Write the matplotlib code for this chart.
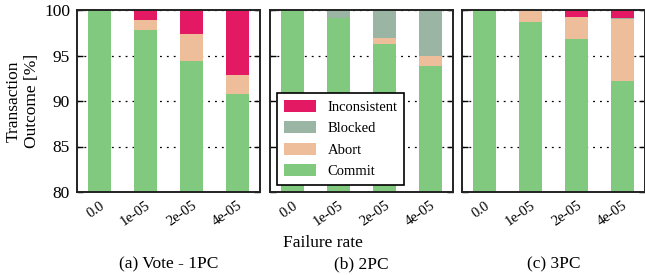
import numpy as np
import matplotlib
matplotlib.use('Agg')
import matplotlib.pyplot as plt

plt.rcParams['font.family'] = ['Liberation Serif', 'DejaVu Serif']

rates = ['0.0', '1e-05', '2e-05', '4e-05']
panels = ['(a) Vote - 1PC', '(b) 2PC', '(c) 3PC']

# percentages per panel, one entry per failure rate
commit = [[100.0, 97.85, 94.45, 90.75],
          [100.0, 99.1, 96.3, 93.8],
          [100.0, 98.7, 96.85, 92.25]]
abort = [[0.0, 1.0, 2.95, 2.1],
         [0.0, 0.0, 0.65, 1.2],
         [0.0, 1.3, 2.4, 6.75]]
blocked = [[0.0, 0.0, 0.0, 0.0],
           [0.0, 0.9, 3.05, 5.0],
           [0.0, 0.0, 0.0, 0.08]]
inconsistent = [[0.0, 1.15, 2.6, 7.15],
                [0.0, 0.0, 0.0, 0.0],
                [0.0, 0.0, 0.75, 0.92]]

colors = {'Commit': '#80c97f', 'Abort': '#eebd99',
          'Blocked': '#9bb5a5', 'Inconsistent': '#e31a63'}

fig = plt.figure(figsize=(6.45, 2.75), dpi=100)
lefts = [77 / 645, 270 / 645, 462 / 645]
w = 183 / 645
bottom = 1 - 192 / 275
h = (192 - 10) / 275

x = np.arange(len(rates))
axes = []
for i, title in enumerate(panels):
    ax = fig.add_axes([lefts[i], bottom, w, h])
    axes.append(ax)
    base = np.zeros(len(rates))
    for name, vals in [('Commit', commit[i]), ('Abort', abort[i]),
                       ('Blocked', blocked[i]), ('Inconsistent', inconsistent[i])]:
        ax.bar(x, vals, 0.5, bottom=base, color=colors[name], label=name,
               linewidth=0, zorder=2)
        base = base + np.array(vals)
    ax.set_xlim(-0.5, 3.5)
    ax.set_ylim(80, 100)
    ax.set_yticks([80, 85, 90, 95, 100])
    ax.yaxis.grid(True, linestyle=(0, (1.5, 4)), color='black', linewidth=0.9, zorder=1)
    ax.set_axisbelow(True)
    ax.set_xticks(x)
    ax.set_xticklabels(rates, rotation=35, ha='right', rotation_mode='anchor', fontsize=10.5)
    ax.tick_params(direction='in', top=True, right=True, length=4, width=1)
    ax.tick_params(axis='y', labelsize=12.5, pad=5)
    ax.tick_params(axis='x', pad=5)
    for s in ax.spines.values():
        s.set_linewidth(1.4)
        s.set_color('#222222')
    if i > 0:
        ax.set_yticklabels([])
    else:
        ax.set_ylabel('Transaction\nOutcome [%]', fontsize=12.5, labelpad=3)
    cx = lefts[i] + w / 2
    fig.text(cx, 1 - 264 / 275, title, ha='center', va='center', fontsize=12.5)

fig.text(0.5, 1 - 243 / 275, 'Failure rate', ha='center', va='center', fontsize=12.5)

handles, labels = axes[1].get_legend_handles_labels()
leg = axes[1].legend(handles[::-1], labels[::-1], loc='lower left',
                     bbox_to_anchor=(0.04, 0.04), fontsize=10.5, frameon=True,
                     fancybox=False, edgecolor='black', framealpha=1,
                     handlelength=2.2, handleheight=0.9, handletextpad=0.8,
                     borderpad=0.45, labelspacing=0.5, borderaxespad=0)
leg.get_frame().set_linewidth(1.2)
leg.set_zorder(5)

fig.savefig('out.png', dpi=100)
